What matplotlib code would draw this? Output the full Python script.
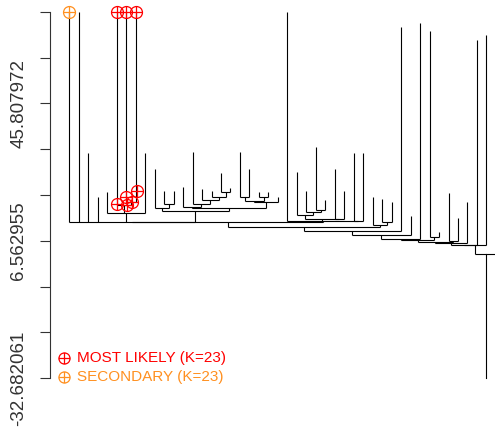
import numpy as np
import matplotlib
matplotlib.use("Agg")
import matplotlib.pyplot as plt
from matplotlib.path import Path

plt.rcParams["font.family"] = ["Liberation Sans", "DejaVu Sans"]

# leaf heights, left to right (leaf 45 sits just past the right edge)
leaf_heights = [
    71.97, 71.97, 31.65, 19.07, 20.50, 71.97, 71.97, 71.97, 31.65, 27.08,
    20.79, 20.79, 21.93, 31.94, 21.36, 20.79, 25.93, 21.64, 31.94, 27.08,
    20.50, 20.50, 19.07, 71.97, 26.22, 20.79, 33.37, 18.21, 27.08, 20.79,
    31.65, 31.65, 19.16, 18.50, 17.56, 67.60, 13.72, 68.91, 66.54, 8.98,
    20.21, 13.07, 17.56, 63.96, 65.39, 60.00,
]
n_leaves = len(leaf_heights)

# internal nodes: children ids (leaves 0..45, nodes from 46 on) and merge height
node_children = [
    (6, 7), (5, 46), (4, 47, 8),                              # 46-48
    (10, 11), (9, 49), (16, 17), (15, 51), (14, 52), (13, 53),  # 49-54
    (12, 54), (18, 19), (20, 21), (56, 57), (58, 22), (55, 59),  # 55-60
    (50, 60), (0, 1, 2, 3, 48, 61),                          # 61-62
    (26, 27), (25, 63), (24, 64), (28, 29), (65, 66), (30, 31),  # 63-68
    (23, 67, 68), (62, 69), (33, 34), (32, 71), (70, 72),     # 69-73
    (73, 35), (74, 36), (75, 37), (38, 39), (76, 77), (40, 41),  # 74-79
    (78, 79), (80, 42), (81, 43), (82, 44), (83, 45),         # 80-84
]
node_heights = [
    17.73, 16.78, 14.41,
    16.98, 15.93, 20.59, 19.16, 18.21, 16.98,
    16.30, 19.07, 19.07, 18.07, 17.64, 15.84,
    15.07, 11.98,
    15.35, 14.87, 13.92, 12.78, 12.64, 12.27,
    12.07, 11.84, 11.84, 11.07, 10.58,
    9.44, 8.35, 6.98, 7.72, 6.69, 6.55,
    6.29, 6.00, 5.49, 5.26, 2.77,
]
root_stem_bottom = -32.682061

# highlighted points
most_likely_x = [5, 6, 7, 5.0, 5.95, 6.05, 6.58, 7.1]
most_likely_y = [71.97, 71.97, 71.97, 16.98, 19.16, 16.78, 17.73, 20.79]
secondary_x = [0]
secondary_y = [71.97]

ytick_values = [-32.682061, -19.600389, -6.518717, 6.562955, 19.644627,
                32.7263, 45.807972, 58.889644, 71.971316]
ytick_labels = ["-32.682061", "", "", "6.562955", "", "", "45.807972", "", ""]

legend_labels = ["MOST LIKELY (K=23)", "SECONDARY (K=23)"]
red = "#FF0000"
orange = "#FF9020"

# circle with a cross inside (like R pch=10)
circ = Path.unit_circle()
cross = Path([(-1, 0), (1, 0), (0, -1), (0, 1)],
             [Path.MOVETO, Path.LINETO, Path.MOVETO, Path.LINETO])
circle_plus = Path.make_compound_path(circ, cross)

fig = plt.figure(figsize=(4.95, 4.28), dpi=100)
ax = fig.add_axes([50 / 495, 50 / 428, 445 / 495, 366 / 428])
ax.set_xlim(-2.036, 44.905)
ax.set_ylim(-32.682061, 71.971316)

xs = list(np.arange(n_leaves, dtype=float))
hs = list(leaf_heights)
for ch, h in zip(node_children, node_heights):
    xs.append((xs[ch[0]] + xs[ch[-1]]) / 2)
    hs.append(h)
    ax.plot([xs[ch[0]], xs[ch[-1]]], [h, h], color="black", lw=0.8,
            clip_on=False, solid_capstyle="butt")
    for c in ch:
        ax.plot([xs[c], xs[c]], [hs[c], h], color="black", lw=0.8,
                clip_on=False, solid_capstyle="butt")
# stem under the root
ax.plot([xs[-1], xs[-1]], [hs[-1], root_stem_bottom], color="black", lw=0.8,
        clip_on=False)

ax.plot(most_likely_x, most_likely_y, ls="none", marker=circle_plus, ms=8.6,
        mfc="none", mec=red, mew=0.9, clip_on=False, zorder=5)
ax.plot(secondary_x, secondary_y, ls="none", marker=circle_plus, ms=8.6,
        mfc="none", mec=orange, mew=0.9, clip_on=False, zorder=5)

# legend, bottom left
for (yy, lab, col) in zip([0.0546, 0.0027], legend_labels, [red, orange]):
    ax.plot([0.0315], [yy], transform=ax.transAxes, ls="none",
            marker=circle_plus, ms=8, mfc="none", mec=col, mew=0.9,
            clip_on=False)
    ax.text(0.0607, yy, lab, transform=ax.transAxes, color=col,
            fontsize=11, va="center", ha="left")

for s in ["top", "right", "bottom"]:
    ax.spines[s].set_visible(False)
ax.spines["left"].set_bounds(ytick_values[0], ytick_values[-1])
ax.spines["left"].set_color("#333333")
ax.set_xticks([])
ax.set_yticks(ytick_values)
ax.set_yticklabels(ytick_labels, rotation=90, va="center", fontsize=13.5,
                   color="#333333")
ax.tick_params(axis="y", length=7.2, width=0.8, pad=9, color="#333333")

fig.savefig("out.png", dpi=100)
